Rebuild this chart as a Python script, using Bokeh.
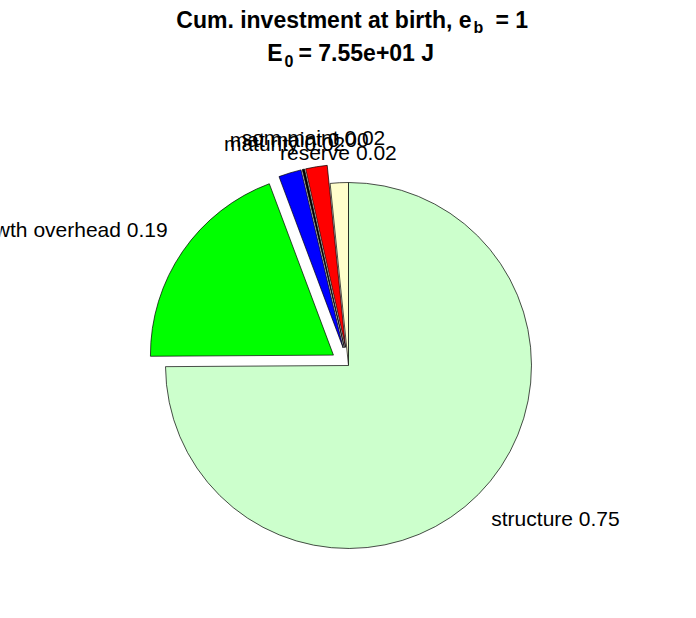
import numpy as np
from bokeh.plotting import figure
from bokeh.models import Range1d
from bokeh.embed import file_html
from bokeh.resources import INLINE
from bokeh.core.properties import value

# ---- data ----
names = ["reserve", "som maint", "mat maint", "maturity", "growth overhead", "structure"]
fractions = [0.016, 0.019, 0.002, 0.020, 0.194, 0.749]
explode = [0, 1, 1, 1, 1, 0]
title_line1 = ("Cum. investment at birth, e", "b", "= 1")
title_line2 = ("E", "0", "= 7.55e+01 J")

colors = ["#FFFFCC", "#FF0000", "#000000", "#0000FF", "#00FF00", "#CCFFCC"]

# ---- layout (pixel geometry of page image) ----
CX, CY, R = 348.0, 365.0, 183.0
W, H = 688, 610
OX, OY = 0, 0  # where the figure's top-left lands in the page image


def px(X):
    return (X - CX) / R


def py(Y):
    return (CY - Y) / R


p = figure(width=W, height=H, output_backend="svg", toolbar_location=None,
           x_range=Range1d(px(OX), px(OX + W)), y_range=Range1d(py(OY + H), py(OY)),
           min_border=0, x_axis_location=None, y_axis_location=None,
           background_fill_color="white", border_fill_color="white")
p.outline_line_color = None
p.grid.visible = False

FONT = "Liberation Sans"

fr = np.array(fractions, dtype=float)
cum = np.concatenate([[0.0], np.cumsum(fr)[:-1]])
start = np.pi / 2 + 2 * np.pi * cum
end = start + 2 * np.pi * fr
mid = (start + end) / 2
ex = np.array(explode, dtype=float) * 0.1
ax = ex * np.cos(mid)
ay = ex * np.sin(mid)

p.wedge(x=ax, y=ay, radius=1.0, start_angle=start, end_angle=end,
        direction="anticlock", fill_color=colors, line_color="black",
        line_width=0.7)

for i, nm in enumerate(names):
    tx = ax[i] + 1.1 * np.cos(mid[i])
    ty = ay[i] + 1.1 * np.sin(mid[i])
    c = np.cos(mid[i])
    if c < -0.5:
        al = "right"
    elif c > 0.5:
        al = "left"
    else:
        al = "center"
    bl = "bottom" if np.sin(mid[i]) > 0 else "top"
    p.text(x=[tx], y=[ty], text=[f"{nm} {fractions[i]:.2f}"],
           text_font=value(FONT), text_font_size="21px", text_color="black",
           text_align=al, text_baseline=bl)


# ---- title with subscripts ----
def title_line(parts, x_main_end, x_sub, x_rest, y_base, size=23, sub_size=16, sub_drop=8):
    main, sub, rest = parts
    p.text(x=[px(x_main_end)], y=[py(y_base)], text=[main], text_font=value(FONT),
           text_font_style="bold", text_font_size=f"{size}px",
           text_align="right", text_baseline="alphabetic", text_color="black")
    p.text(x=[px(x_sub)], y=[py(y_base + sub_drop)], text=[sub],
           text_font=value(FONT), text_font_style="bold",
           text_font_size=f"{sub_size}px", text_align="left",
           text_baseline="alphabetic", text_color="black")
    p.text(x=[px(x_rest)], y=[py(y_base)], text=[rest],
           text_font=value(FONT), text_font_style="bold",
           text_font_size=f"{size}px", text_align="left",
           text_baseline="alphabetic", text_color="black")


title_line(title_line1, 471, 473, 495, 19)
title_line(title_line2, 282, 284, 298, 52)

open("out.html", "w").write(file_html(p, INLINE))
